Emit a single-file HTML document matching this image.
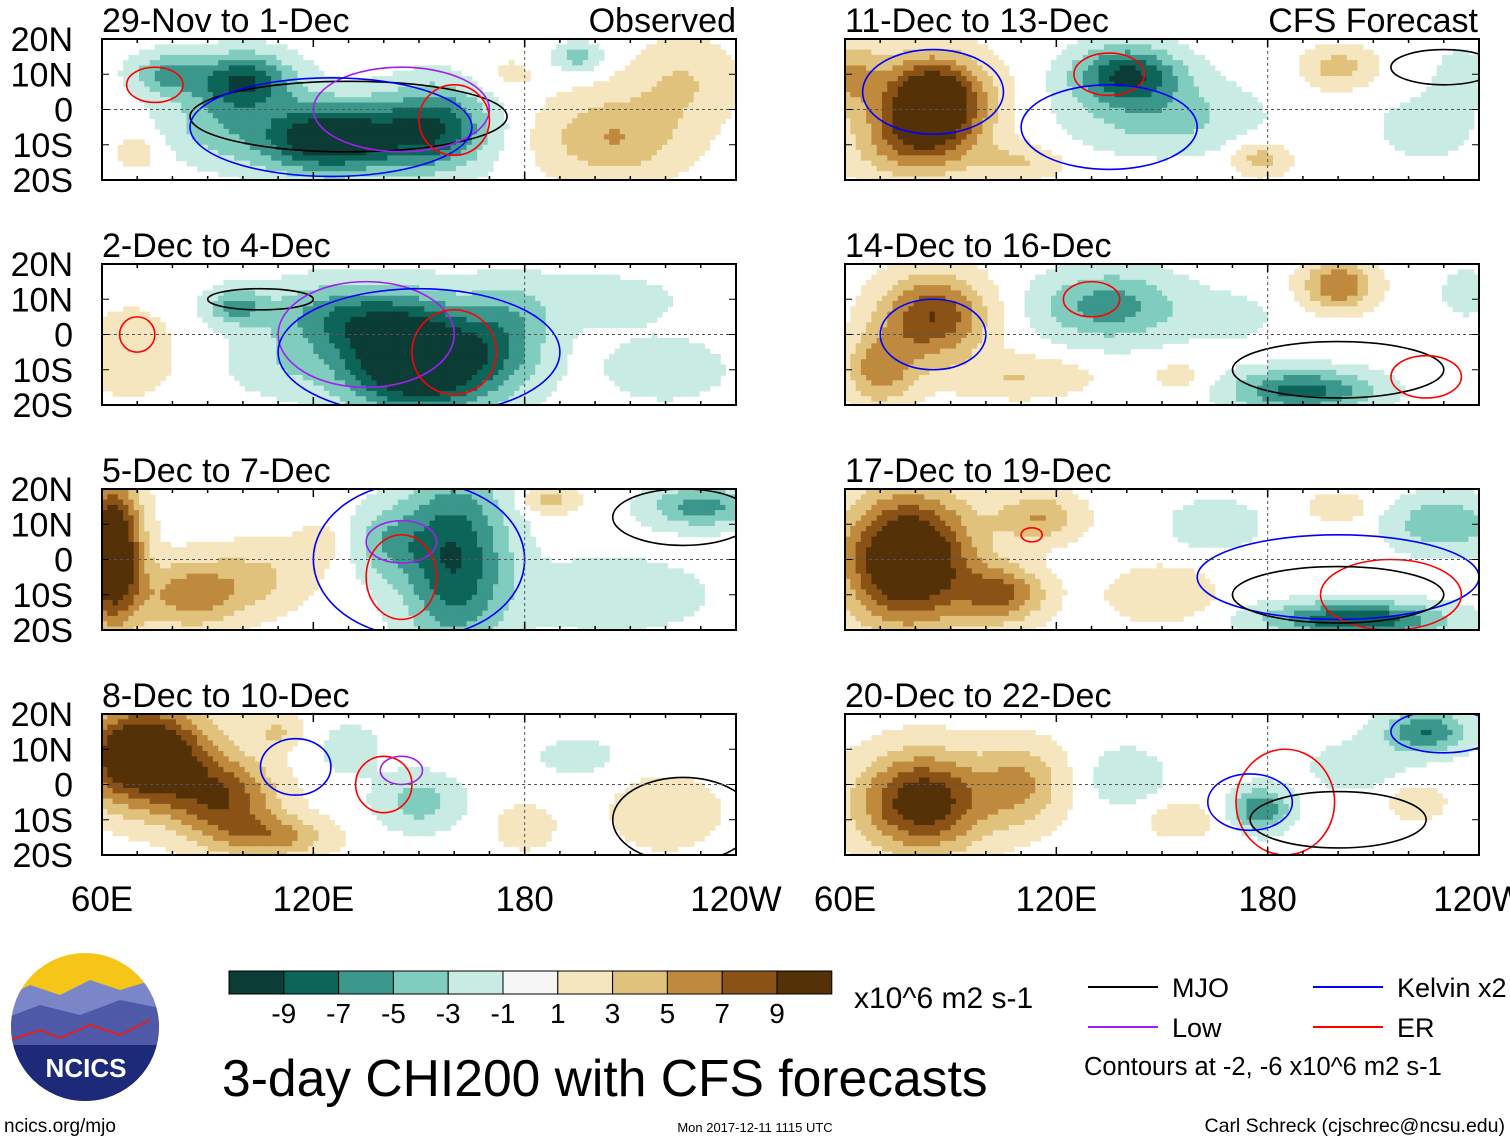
<!DOCTYPE html>
<html><head><meta charset="utf-8">
<style>
body{margin:0;background:#fff;width:1510px;height:1142px;overflow:hidden;font-family:"Liberation Sans",sans-serif;}
svg{position:absolute;left:0;top:0;}
</style></head>
<body>
<svg id="chart" width="1510" height="1142" viewBox="0 0 1510 1142"></svg>
<script>
const panelTitles=["29-Nov to 1-Dec","2-Dec to 4-Dec","5-Dec to 7-Dec","8-Dec to 10-Dec","11-Dec to 13-Dec","14-Dec to 16-Dec","17-Dec to 19-Dec","20-Dec to 22-Dec"];
// blobs: [lon, lat, amplitude, rlon, rlat]
const blobs0=[[125,-8,-12,22,10],[100,8,-9,14,8],[155,-5,-8,15,12],[78,10,-5,10,6],[90,-5,-3,15,10],[205,-8,5,20,12],[225,8,3,15,12],[195,15,-4,7,4],[70,-12,2,8,6],[175,10,1.5,10,6]];
const blobs1=[[150,-8,-14,22,14],[130,5,-6,25,10],[98,8,-5,8,5],[175,0,-4,12,14],[68,-5,3,12,12],[200,10,-2,25,8],[220,-10,-2,20,10],[110,-10,-2,15,8]];
const blobs2=[[63,2,14,8,20],[85,-10,6,15,10],[105,-5,3,15,10],[160,0,-9,15,25],[140,5,-4,12,10],[230,15,-6,15,6],[205,-10,-3,25,10],[187,17,4,8,4],[125,5,2,10,8]];
const blobs3=[[72,8,14,18,14],[95,-5,8,15,12],[110,-15,5,15,6],[150,-5,-4,12,8],[180,-12,3,8,6],[220,-8,3,15,10],[130,10,-2,10,8],[195,8,-2,12,6],[110,15,3,8,5]];
const blobs4=[[85,3,13,15,12],[80,-10,6,18,10],[60,10,5,10,10],[140,10,-9,15,8],[150,-2,-4,25,10],[200,12,4,10,6],[178,-14,4,8,5],[225,-5,-2,15,10],[235,10,-2,8,8],[110,-15,3,12,5]];
const blobs5=[[85,5,9,15,12],[70,-10,6,10,10],[135,8,-6,20,10],[200,14,7,10,7],[190,-16,-8,20,6],[110,-12,3,20,6],[155,-12,2,8,5],[236,12,-3,6,6],[170,5,-1.5,15,8]];
const blobs6=[[78,0,14,18,18],[105,-10,7,12,8],[115,12,5,12,7],[205,-17,-9,25,5],[230,10,-5,15,8],[165,10,-3,12,7],[150,-10,3,15,8],[200,15,3,8,4]];
const blobs7=[[82,-5,11,18,14],[110,0,5,12,12],[140,2,-3,10,8],[178,-7,-7,8,6],[225,15,-7,12,6],[222,-5,3,8,5],[205,5,-2,15,8],[155,-10,2,12,6]];
const allBlobs=[blobs0,blobs1,blobs2,blobs3,blobs4,blobs5,blobs6,blobs7];
// contours: [panel, type, lon, lat, rlon, rlat]
const contours=[[0,"mjo",130,-2,45,10],[0,"low",145,0,25,12],[0,"kelvin",125,-5,40,14],[0,"er",160,-3,10,10],[0,"er",75,7,8,5],
[1,"mjo",105,10,15,3],[1,"low",135,0,25,15],[1,"kelvin",150,-5,40,18],[1,"er",160,-5,12,12],[1,"er",70,0,5,5],
[2,"low",145,5,10,6],[2,"er",145,-5,10,12],[2,"kelvin",150,0,30,22],[2,"mjo",225,12,20,8],
[3,"er",140,0,8,8],[3,"low",145,4,6,4],[3,"mjo",225,-10,20,12],[3,"kelvin",115,5,10,8],
[4,"kelvin",85,5,20,12],[4,"er",135,10,10,6],[4,"mjo",230,12,15,5],[4,"kelvin",135,-5,25,12],
[5,"kelvin",85,0,15,10],[5,"er",130,10,8,5],[5,"mjo",200,-10,30,8],[5,"er",225,-12,10,6],
[6,"kelvin",200,-5,40,12],[6,"er",215,-10,20,10],[6,"er",113,7,3,2],[6,"mjo",200,-10,30,8],
[7,"kelvin",230,15,15,6],[7,"er",185,-5,14,15],[7,"mjo",200,-10,25,8],[7,"kelvin",175,-5,12,8]];
const levels=[-9,-7,-5,-3,-1,1,3,5,7,9];
const colors=["#0b3c35","#0d6559","#3b978b","#80cdbf","#c8ece3","#f6f6f6","#f6e6c0","#e0c27d","#bf8a3d","#8b5216","#553107"];
const lineColors={mjo:"#000",kelvin:"#0000ff",low:"#a020f0",er:"#ff0000"};

const NS="http://www.w3.org/2000/svg";
const svg=document.getElementById("chart");
function mk(tag,attrs,parent){const e=document.createElementNS(NS,tag);for(const k in attrs)e.setAttribute(k,attrs[k]);(parent||svg).appendChild(e);return e;}
const PW=634,PH=141;
const px=[102,102,102,102,845,845,845,845];
const py=[39,264,489,714,39,264,489,714];
function colorFor(v){let i=0;while(i<levels.length&&v>levels[i])i++;return colors[i];}
function field(b,lon,lat){let s=0;for(const [x,y,a,rx,ry] of b){const dx=(lon-x)/rx,dy=(lat-y)/ry;s+=a*Math.exp(-(dx*dx+dy*dy));}return s;}

for(let p=0;p<8;p++){
  const x0=px[p],y0=py[p];
  const xs=lon=>x0+(lon-60)/180*PW;
  const ys=lat=>y0+(20-lat)/40*PH;
  const g=mk("g",{});
  
  
  const cp=mk("clipPath",{id:"cp"+p},g);mk("rect",{x:x0,y:y0,width:PW,height:PH},cp);
  const hg=mk("g",{"clip-path":"url(#cp"+p+")"},g);
  const dl=1.5,dt=1.5;
  for(let lon=60;lon<240;lon+=dl){for(let lat=20;lat>-20;lat-=dt){
    const v=field(allBlobs[p],lon+dl/2,lat-dt/2);
    const c=colorFor(v);
    if(c==="#f6f6f6")continue;
    const r=mk("rect",{x:xs(lon).toFixed(1),y:ys(lat).toFixed(1),width:(dl/180*PW+0.6).toFixed(2),height:(dt/40*PH+0.6).toFixed(2),fill:c},hg);
    
    
  }}
  for(const c of contours){if(c[0]!==p)continue;
    const e=mk("ellipse",{cx:xs(c[2]),cy:ys(c[3]),rx:c[4]/180*PW,ry:c[5]/40*PH,fill:"none",stroke:lineColors[c[1]],"stroke-width":1.6},hg);
    
    
  }
  mk("line",{x1:x0,x2:x0+PW,y1:ys(0),y2:ys(0),stroke:"#555","stroke-dasharray":"3,3","stroke-width":1},g);
  mk("line",{x1:xs(180),x2:xs(180),y1:y0,y2:y0+PH,stroke:"#555","stroke-dasharray":"3,3","stroke-width":1},g);
  const fr=mk("rect",{x:x0,y:y0,width:PW,height:PH,fill:"none",stroke:"#000","stroke-width":2},g);
  
  for(let lon=60;lon<=240;lon+=10){const L=(lon%60===0)?8:4;
    mk("line",{x1:xs(lon),x2:xs(lon),y1:y0,y2:y0+L,stroke:"#000","stroke-width":1.5},g);
    mk("line",{x1:xs(lon),x2:xs(lon),y1:y0+PH,y2:y0+PH-L,stroke:"#000","stroke-width":1.5},g);}
  for(let lat=-20;lat<=20;lat+=10){mk("line",{x1:x0,x2:x0+7,y1:ys(lat),y2:ys(lat),stroke:"#000"},g);mk("line",{x1:x0+PW,x2:x0+PW-7,y1:ys(lat),y2:ys(lat),stroke:"#000"},g);}
  const t=mk("text",{x:x0,y:y0-7,"font-size":34,fill:"#000"},g);t.textContent=panelTitles[p];
  
  if(p<4){["20N","10N","0","10S","20S"].forEach((s,i)=>{const tt=mk("text",{x:73,y:y0+i*PH/4+12,"text-anchor":"end","font-size":34},g);tt.textContent=s;
    });}
}
function txt(s,x,y,fs,anchor,name){const t=mk("text",{x:x,y:y,"font-size":fs,"text-anchor":anchor||"start"});t.textContent=s;return t;}
txt("Observed",736,32,34,"end","observed-label");
txt("CFS Forecast",1478,32,34,"end","forecast-label");
["60E","120E","180","120W"].forEach((s,i)=>{txt(s,102+i*PW/3,911,35,"middle","x-tick-label");txt(s,845+i*PW/3,911,35,"middle","x-tick-label");});
// colorbar
for(let i=0;i<11;i++){const r=mk("rect",{x:229+i*54.8,y:971,width:54.8,height:23,fill:colors[i],stroke:"#000","stroke-width":1});
  }
levels.forEach((l,i)=>txt(String(l),229+(i+1)*54.8,1023,28,"middle","colorbar-label"));
txt("x10^6 m2 s-1",854,1008,30,"start","units-label");
txt("3-day CHI200 with CFS forecasts",222,1096,51.6,"start","main-title");
// legend
[["MJO","mjo",1088,987],["Low","low",1088,1027],["Kelvin x2","kelvin",1313,987],["ER","er",1313,1027]].forEach(([s,k,x,y])=>{
  const l=mk("line",{x1:x,x2:x+70,y1:y,y2:y,stroke:lineColors[k],"stroke-width":2});
  txt(s,x+84,y+10,27,"start","legend-entry");});
txt("Contours at -2, -6 x10^6 m2 s-1",1084,1075,25.5,"start","contour-note");
txt("ncics.org/mjo",4,1132,19,"start","site-link");
txt("Mon 2017-12-11 1115 UTC",755,1132,13,"middle","timestamp");
txt("Carl Schreck (cjschrec@ncsu.edu)",1505,1132,19.5,"end","author");
// logo
const lg=mk("g",{});
const lc=mk("clipPath",{id:"lc"},lg);mk("circle",{cx:85,cy:1027,r:74},lc);
const lgi=mk("g",{"clip-path":"url(#lc)"},lg);
mk("rect",{x:0,y:940,width:170,height:180,fill:"#f5c518"},lgi);
mk("path",{d:"M0 1000 L30 985 L60 995 L90 980 L120 990 L170 975 L170 1120 L0 1120Z",fill:"#7b86c8"},lgi);
mk("path",{d:"M0 1020 L40 1005 L80 1015 L120 1000 L170 1010 L170 1120 L0 1120Z",fill:"#4e5aa8"},lgi);
mk("path",{d:"M10 1040 L40 1030 L60 1038 L90 1025 L120 1035 L150 1020",fill:"none",stroke:"#d22","stroke-width":2},lgi);
mk("rect",{x:0,y:1045,width:170,height:80,fill:"#1d2a7a"},lgi);
const lt=mk("text",{x:86,y:1077,"font-size":26,"font-weight":"bold",fill:"#fff","text-anchor":"middle"},lg);lt.textContent="NCICS";
</script>
</body></html>
